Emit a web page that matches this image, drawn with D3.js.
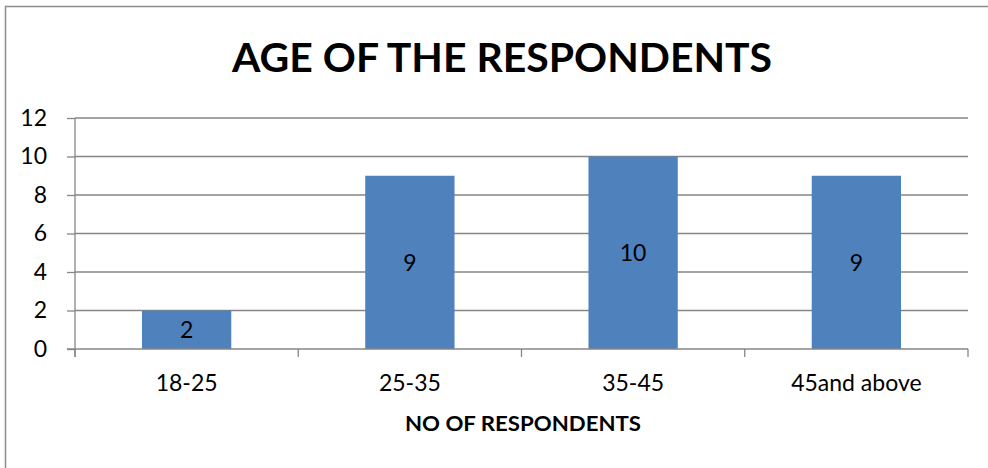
<html>
<head>
<meta charset="utf-8">
<title>Age of the respondents</title>
<style>
  body { margin: 0; background: #ffffff; }
  svg { display: block; font-family: Lato, 'Open Sans', sans-serif; }
</style>
</head>
<body>
<div id="chart"></div>
<script src="https://cdnjs.cloudflare.com/ajax/libs/d3/7.8.5/d3.min.js"></script>
<script>
  // data
  const categories = ["18-25", "25-35", "35-45", "45and above"]
  const respondents = [2, 9, 10, 9]
  const yTicks = [0, 2, 4, 6, 8, 10, 12]

  const W = 988, H = 468
  const margin = { top: 118, right: 20, bottom: 119, left: 75 }
  const plotW = 968 - margin.left
  const plotH = 349 - margin.top
  const fnt = "Lato, 'Open Sans', sans-serif"

  const svg = d3.select("#chart").append("svg")
    .attr("width", W)
    .attr("height", H)

  // outer chart frame (runs off the right and bottom edge)
  svg.append("path")
    .attr("d", "M5.5,480 V6.5 H1000")
    .attr("fill", "none")
    .attr("stroke", "#8c8c8c")
    .attr("stroke-width", 1.5)

  // title
  svg.append("text")
    .attr("x", 502)
    .attr("y", 72)
    .attr("text-anchor", "middle")
    .attr("font-weight", "bold")
    .attr("font-size", 41)
    .attr("textLength", 540)
    .attr("lengthAdjust", "spacingAndGlyphs")
    .attr("fill", "#000")
    .text("AGE OF THE RESPONDENTS")

  const g = svg.append("g")
    .attr("transform", `translate(${margin.left},${margin.top})`)

  const x = d3.scaleBand()
    .domain(categories)
    .range([0, plotW])
    .paddingInner(0.6)
    .paddingOuter(0.3)

  const y = d3.scaleLinear()
    .domain([0, 12])
    .range([plotH, 0])

  // gridlines
  g.selectAll(".grid")
    .data(yTicks.filter(d => d > 0))
    .join("line")
    .attr("class", "grid")
    .attr("x1", 0)
    .attr("x2", plotW)
    .attr("y1", d => y(d))
    .attr("y2", d => y(d))
    .attr("stroke", "#868686")
    .attr("stroke-width", 1.3)

  // bars
  g.selectAll(".bar")
    .data(respondents)
    .join("rect")
    .attr("class", "bar")
    .attr("x", (d, i) => x(categories[i]))
    .attr("y", d => y(d))
    .attr("width", x.bandwidth())
    .attr("height", d => plotH - y(d))
    .attr("fill", "#4f81bd")

  // data labels
  g.selectAll(".lbl")
    .data(respondents)
    .join("text")
    .attr("class", "lbl")
    .attr("x", (d, i) => x(categories[i]) + x.bandwidth() / 2)
    .attr("y", d => (y(d) + plotH) / 2)
    .attr("dy", "0.36em")
    .attr("text-anchor", "middle")
    .attr("font-size", 23)
    .attr("fill", "#000")
    .text(d => d)

  // y axis
  const yAxis = g.append("g")
    .call(d3.axisLeft(y).tickValues(yTicks).tickSize(8).tickPadding(20))
  yAxis.selectAll("path, line").attr("stroke", "#868686").attr("stroke-width", 1.3)
  yAxis.selectAll("text").attr("font-size", 23).attr("fill", "#000")
    .attr("font-family", fnt)
  yAxis.select(".domain").attr("d", `M0,0V${plotH + 8}`)

  // x axis with ticks at category boundaries
  const bounds = d3.range(categories.length + 1).map(i => i * plotW / categories.length)
  const xAxis = g.append("g").attr("transform", `translate(0,${plotH})`)
  xAxis.append("line")
    .attr("x1", -8).attr("x2", plotW)
    .attr("stroke", "#868686").attr("stroke-width", 1.3)
  xAxis.selectAll(".xt")
    .data(bounds)
    .join("line")
    .attr("class", "xt")
    .attr("x1", d => d).attr("x2", d => d)
    .attr("y1", 0).attr("y2", 8)
    .attr("stroke", "#868686").attr("stroke-width", 1.3)
  xAxis.selectAll(".xl")
    .data(categories)
    .join("text")
    .attr("class", "xl")
    .attr("x", d => x(d) + x.bandwidth() / 2)
    .attr("y", 42)
    .attr("text-anchor", "middle")
    .attr("font-size", 23)
    .attr("fill", "#000")
    .text(d => d)

  // axis title
  svg.append("text")
    .attr("x", 523)
    .attr("y", 431)
    .attr("text-anchor", "middle")
    .attr("font-weight", "bold")
    .attr("font-size", 21)
    .attr("textLength", 236)
    .attr("lengthAdjust", "spacingAndGlyphs")
    .attr("fill", "#000")
    .text("NO OF RESPONDENTS")
</script>
</body>
</html>
